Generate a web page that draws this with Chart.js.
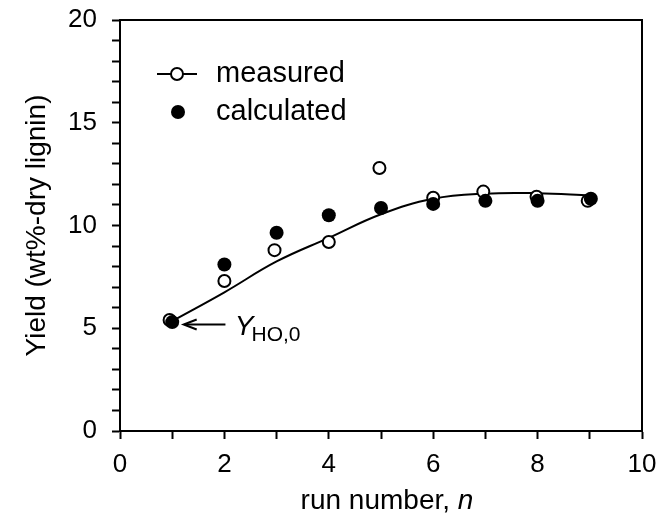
<!DOCTYPE html>
<html>
<head>
<meta charset="utf-8">
<script src="https://cdn.jsdelivr.net/npm/chart.js@4.4.1/dist/chart.umd.min.js"></script>
<style>
html, body { margin: 0; padding: 0; background: #fff; }
#wrap { width: 659px; height: 520px; }
</style>
</head>
<body>
<div id="wrap"><canvas id="yieldChart" width="659" height="520"></canvas></div>
<script>
// values
const measuredRun = [0.95, 2, 2.96, 4, 4.97, 6, 6.96, 7.98, 8.96];
const measuredYield = [5.4, 7.3, 8.8, 9.2, 12.8, 11.35, 11.65, 11.4, 11.2];
const calcRun = [1, 2, 3, 4, 5, 6, 7, 8, 9.02];
const calcYield = [5.3, 8.1, 9.65, 10.5, 10.85, 11.05, 11.2, 11.2, 11.3];
const fitRun = [1, 2, 3, 4, 5, 6, 7, 8, 9];
const fitYield = [5.35, 6.75, 8.25, 9.4, 10.55, 11.3, 11.55, 11.57, 11.47];
const xLabelEvery = 2;   // labels at 0, 2, ... 10
const yLabelEvery = 5;   // labels at 0, 5, ... 20

const FONT = '"Liberation Sans", Arial, sans-serif';

function toPoints(xs, ys) {
    return xs.map((x, i) => ({ x: x, y: ys[i] }));
}

// frame, legend, annotation and x title
const extras = {
    id: 'extras',
    afterDraw(chart) {
        const { ctx, chartArea: a, scales: { x, y } } = chart;
        ctx.save();
        ctx.strokeStyle = '#000';
        ctx.lineWidth = 2;
        ctx.beginPath();
        ctx.moveTo(a.left, a.top);
        ctx.lineTo(a.right, a.top);
        ctx.lineTo(a.right, a.bottom);
        ctx.stroke();

        // legend
        ctx.fillStyle = '#000';
        ctx.textBaseline = 'middle';
        ctx.font = '29px ' + FONT;
        const lx = a.left + 57, ly1 = a.top + 54, ly2 = a.top + 92;
        ctx.beginPath();
        ctx.moveTo(lx - 20, ly1);
        ctx.lineTo(lx + 20, ly1);
        ctx.stroke();
        ctx.beginPath();
        ctx.arc(lx, ly1, 6, 0, Math.PI * 2);
        ctx.fillStyle = '#fff';
        ctx.fill();
        ctx.stroke();
        ctx.fillStyle = '#000';
        ctx.beginPath();
        ctx.arc(lx + 1, ly2, 7, 0, Math.PI * 2);
        ctx.fill();
        ctx.fillText('measured', a.left + 96, ly1);
        ctx.fillText('calculated', a.left + 96, ly2);

        // arrow to first point
        const ay = y.getPixelForValue(5.18);
        const tip = x.getPixelForValue(1.22);
        const tail = x.getPixelForValue(2.02);
        ctx.lineWidth = 2;
        ctx.beginPath();
        ctx.moveTo(tail, ay);
        ctx.lineTo(tip + 2, ay);
        ctx.stroke();
        ctx.beginPath();
        ctx.moveTo(tip + 13, ay - 5);
        ctx.lineTo(tip, ay);
        ctx.lineTo(tip + 13, ay + 5);
        ctx.stroke();

        const tx = x.getPixelForValue(2.2);
        ctx.textBaseline = 'alphabetic';
        ctx.font = 'italic 28px ' + FONT;
        ctx.fillText('Y', tx, ay + 10);
        const yw = ctx.measureText('Y').width;
        ctx.font = '21px ' + FONT;
        ctx.fillText('HO,0', tx + yw - 2, ay + 16);

        // x axis title with italic n
        const t1 = 'run number, ';
        ctx.font = 'italic 28px ' + FONT;
        const wn = ctx.measureText('n').width;
        ctx.font = '28px ' + FONT;
        const w1 = ctx.measureText(t1).width;
        const cx = (a.left + a.right) / 2 + 6;
        const startX = cx - (w1 + wn) / 2;
        ctx.textBaseline = 'middle';
        ctx.fillText(t1, startX, 501);
        ctx.font = 'italic 28px ' + FONT;
        ctx.fillText('n', startX + w1, 501);
        ctx.restore();
    }
};

const canvas = document.getElementById('yieldChart');
const ctx = canvas.getContext('2d');

const yieldChart = new Chart(ctx, {
    data: {
        datasets: [
            {
                type: 'scatter',
                label: 'calculated',
                data: toPoints(calcRun, calcYield),
                pointRadius: 7,
                pointBackgroundColor: '#000',
                pointBorderColor: '#000',
                pointBorderWidth: 0,
                order: 1
            },
            {
                type: 'scatter',
                label: 'measured',
                data: toPoints(measuredRun, measuredYield),
                pointRadius: 6,
                pointBackgroundColor: '#fff',
                pointBorderColor: '#000',
                pointBorderWidth: 2,
                order: 2
            },
            {
                type: 'line',
                label: 'fit',
                data: toPoints(fitRun, fitYield),
                borderColor: '#000',
                borderWidth: 2,
                pointRadius: 0,
                tension: 0.4,
                fill: false,
                order: 3
            }
        ]
    },
    options: {
        responsive: false,
        animation: false,
        events: [],
        layout: { padding: { top: 20, right: 17, left: 0, bottom: 0 } },
        plugins: {
            legend: { display: false },
            tooltip: { enabled: false }
        },
        scales: {
            x: {
                type: 'linear',
                min: 0,
                max: 10,
                afterFit: s => {
                    s.height = 89;
                    s.paddingLeft = 0;
                    s.paddingRight = 0;
                },
                border: { display: true, color: '#000', width: 2 },
                grid: {
                    drawOnChartArea: false,
                    drawTicks: true,
                    tickLength: 8,
                    tickColor: '#000',
                    tickWidth: 2
                },
                ticks: {
                    stepSize: 1,
                    autoSkip: false,
                    maxRotation: 0,
                    color: '#000',
                    padding: 10,
                    font: { family: FONT, size: 26 },
                    callback: v => (v % xLabelEvery === 0 ? v : '')
                }
            },
            y: {
                type: 'linear',
                min: 0,
                max: 20,
                afterFit: s => {
                    s.width = 120;
                    s.paddingTop = 0;
                    s.paddingBottom = 0;
                },
                border: { display: true, color: '#000', width: 2 },
                grid: {
                    drawOnChartArea: false,
                    drawTicks: true,
                    tickLength: 8,
                    tickColor: '#000',
                    tickWidth: 2
                },
                ticks: {
                    stepSize: 1,
                    autoSkip: false,
                    color: '#000',
                    padding: 15,
                    font: { family: FONT, size: 26 },
                    callback: v => (v % yLabelEvery === 0 ? v : '')
                },
                title: {
                    display: true,
                    text: 'Yield (wt%-dry lignin)',
                    color: '#000',
                    padding: { top: 20, bottom: 0 },
                    font: { family: FONT, size: 28 }
                }
            }
        }
    },
    plugins: [extras]
});
</script>
</body>
</html>
